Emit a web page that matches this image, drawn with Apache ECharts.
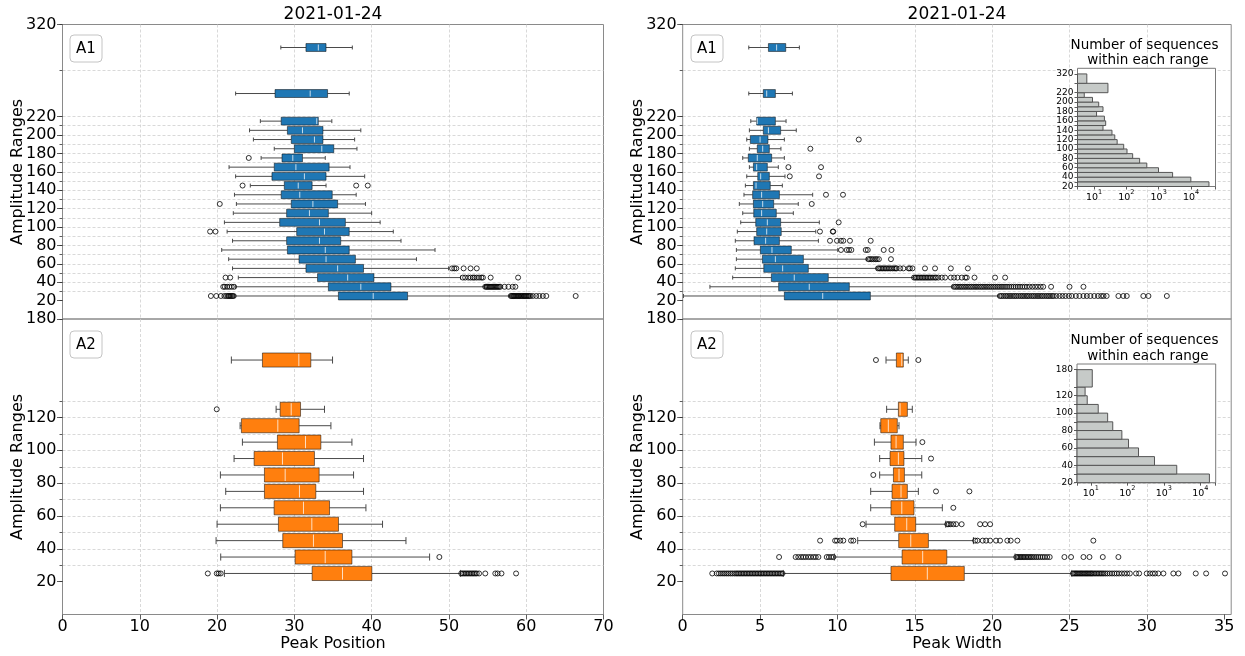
<!DOCTYPE html>
<html>
<head>
<meta charset="utf-8">
<script src="https://cdn.jsdelivr.net/npm/echarts@6/dist/echarts.min.js"></script>
<style>
  html, body { margin: 0; padding: 0; background: #fff; }
  #chart { width: 1245px; height: 656px; }
</style>
</head>
<body>
<div id="chart"></div>
<script>
const FONT = 'DejaVu Sans';
const dateLabel = '2021-01-24';

// Amplitude bins of the two groups
const a1Ranges = [[20,30],[30,40],[40,50],[50,60],[60,70],[70,80],[80,90],[90,100],[100,110],[110,120],
  [120,130],[130,140],[140,150],[150,160],[160,170],[170,180],[180,190],[190,200],[200,210],[210,220],
  [220,270],[270,320]];
const a2Ranges = [[20,30],[30,40],[40,50],[50,60],[60,70],[70,80],[80,90],[90,100],[100,110],[110,120],
  [120,130],[130,180]];

// Tick positions and labelled ticks
const a1TickValues = [20,30,40,50,60,70,80,90,100,110,120,130,140,150,160,170,180,190,200,210,220,270,320];
const a1LabelValues = [20,40,60,80,100,120,140,160,180,200,220,320];
const a2TickValues = [20,30,40,50,60,70,80,90,100,110,120,130,180];
const a2LabelValues = [20,40,60,80,100,120,180];
const positionTicks = [0,10,20,30,40,50,60,70];
const widthTicks = [0,5,10,15,20,25,30,35];

// Box statistics per bin: [lower whisker, Q1, median, Q3, upper whisker]
const a1PositionStats = [
  [22.3,35.7,40.2,44.65,57.9],[22.4,34.4,38.6,42.5,54.6],[22.75,33.0,36.9,40.3,51.5],[22.0,31.5,35.6,38.95,49.95],
  [21.5,30.6,34.1,37.9,45.8],[20.6,29.1,34.0,37.1,48.2],[22.0,29.0,33.25,36.0,43.8],[21.3,30.3,33.9,37.1,42.8],
  [20.95,28.1,33.25,36.6,41.1],[22.1,29.0,31.95,34.4,40.0],[22.5,29.6,32.4,35.6,39.2],[22.25,28.3,30.7,34.9,38.0],
  [24.3,28.7,30.5,32.3,34.1],[22.4,27.1,31.3,34.1,39.1],[21.55,27.4,30.2,34.5,37.2],[25.7,28.4,29.8,31.05,34.0],
  [27.4,30.0,33.55,35.1,38.1],[24.7,29.6,32.6,33.7,37.8],[24.2,29.1,31.05,33.7,38.6],[25.6,28.3,32.9,33.1,34.85],
  [22.4,27.5,32.05,34.3,37.1],[28.25,31.5,33.1,34.1,37.5]
];
const a1WidthStats = [
  [0.05,6.57,9.05,12.13,20.4],[1.76,6.2,8.18,10.77,17.45],[3.23,5.73,7.21,9.41,14.9],[3.4,5.24,6.46,8.12,12.54],
  [3.47,5.15,5.99,7.8,11.87],[3.47,5.02,5.77,7.02,10.02],[3.4,4.61,5.36,6.25,8.77],[3.53,4.78,5.43,6.37,8.6],
  [3.75,4.72,5.47,6.33,8.83],[3.88,4.59,5.1,6.05,7.15],[3.66,4.57,5.17,5.88,7.47],[3.96,4.52,5.1,6.25,8.4],
  [4.05,4.57,4.74,5.66,6.44],[4.14,4.85,5.04,5.6,6.61],[4.31,4.57,4.78,5.47,6.18],[3.88,4.24,4.82,5.75,6.57],
  [4.31,4.82,5.17,5.6,6.35],[4.14,4.37,5.0,5.51,6.57],[4.31,5.21,5.54,6.33,7.34],[4.4,4.78,4.82,5.99,6.68],
  [4.27,5.21,5.43,5.99,7.09],[4.27,5.54,6.07,6.66,7.54]
];
const a2PositionStats = [
  [20.95,32.3,36.23,40.03,51.48],[20.47,30.1,33.99,37.45,47.5],[19.87,28.5,32.47,36.23,44.44],[20.0,27.94,32.26,35.71,41.41],
  [20.43,27.38,31.18,34.55,39.26],[21.12,26.13,30.66,32.78,38.95],[20.43,26.13,28.81,33.21,37.66],[22.2,24.79,28.46,32.6,38.95],
  [23.28,27.81,31.44,33.43,37.45],[22.98,23.15,27.86,30.62,34.73],[27.64,28.16,29.59,30.8,33.9],[21.85,25.87,30.58,32.13,34.94]
];
const a2WidthStats = [
  [6.5,13.46,15.81,18.2,25.15],[9.8,14.18,15.51,17.07,21.48],[11.31,13.96,14.74,15.88,18.79],[11.85,13.7,14.48,15.06,17.0],
  [12.15,13.46,14.16,14.95,16.78],[12.15,13.53,14.11,14.52,15.23],[12.73,13.62,13.98,14.33,15.45],[12.73,13.4,13.94,14.3,15.45],
  [12.39,13.46,13.79,14.26,15.08],[12.75,12.8,13.29,13.87,13.98],[13.18,13.94,14.05,14.52,14.84],[13.14,13.81,14.16,14.26,14.58]
];

// Outliers per bin
const a1PositionOutliers = [
  [19.2,19.9,20.5,20.95,21.2,21.4,21.55,21.7,21.85,22.0,22.15,58.0,58.15,58.3,58.4,58.55,58.7,58.85,59.0,59.1,59.25,
   59.4,59.55,59.7,59.8,59.95,60.1,60.25,60.4,60.55,60.85,61.3,61.7,62.15,62.6,66.4],
  [20.8,21.0,21.3,21.6,21.9,22.2,54.7,54.85,55.0,55.15,55.3,55.45,55.6,55.75,55.9,56.05,56.2,56.35,56.5,56.65,57.2,57.7,58.25,58.6],
  [21.1,21.7,51.8,52.1,52.5,52.8,53.1,53.3,53.6,53.9,54.2,54.4,55.4,58.95],
  [50.4,50.7,50.95,51.9,52.8,53.6],
  [],[],[],[19.1,19.8],[],[],[20.35],[],[23.3,38.0,39.5],[],[],[24.1],[],[],[],[],[],[]
];
const a1WidthOutliers = [
  [20.5,20.61,20.73,20.86,20.97,21.1,21.21,21.34,21.46,21.57,21.7,21.83,21.94,22.06,22.19,22.3,22.41,22.55,22.66,22.78,
   22.91,23.02,23.15,23.26,23.38,23.51,23.62,23.74,23.87,23.98,24.15,24.36,24.55,24.74,24.96,25.15,25.41,25.64,25.9,26.12,
   26.35,26.6,26.84,27.05,27.2,27.4,28.16,28.48,28.7,29.77,30.1,31.29],
  [17.52,17.63,17.74,17.86,17.97,18.08,18.2,18.31,18.43,18.55,18.66,18.78,18.9,19.01,19.13,19.25,19.36,19.48,19.6,19.72,
   19.84,19.96,20.08,20.2,20.33,20.45,20.58,20.7,20.83,20.96,21.1,21.24,21.38,21.52,21.66,21.8,21.95,22.1,22.25,22.42,
   22.6,22.78,22.96,23.14,23.3,23.81,25.0,25.9],
  [14.95,15.05,15.15,15.25,15.35,15.45,15.55,15.65,15.75,15.85,15.95,16.05,16.17,16.3,16.38,16.52,16.75,16.96,17.33,17.54,
   17.76,18.04,18.26,18.36,18.86,20.19,20.84],
  [12.62,12.72,12.82,12.92,13.02,13.12,13.22,13.33,13.43,13.55,13.66,13.76,13.83,14.05,14.26,14.6,14.69,14.85,15.66,16.31,17.33,18.43],
  [12.0,12.1,12.2,12.32,12.45,12.55,12.68,13.46],
  [10.23,10.6,10.75,10.9,11.83,11.96,12.99,13.49],
  [9.52,9.97,10.23,10.38,10.81,12.15],
  [8.87,9.7,9.73],
  [10.08],[],[8.34],[9.26,10.36],[],[6.92,8.81],[6.83,8.94],[],[8.25],[11.38],[],[],[],[]
];
const a2PositionOutliers = [
  [18.8,19.96,20.2,20.47,51.6,51.8,52.0,52.2,52.4,52.6,52.8,53.0,53.2,53.4,53.6,53.9,54.7,56.0,56.3,56.8,58.69],
  [48.76],[],[],[],[],[],[],[],[],[19.96],[]
];
const a2WidthOutliers = [
  [1.91,2.2,2.34,2.47,2.6,2.72,2.85,2.97,3.1,3.22,3.35,3.46,3.56,3.66,3.76,3.86,3.96,4.06,4.16,4.26,4.36,4.46,4.56,4.66,
   4.76,4.86,4.96,5.06,5.16,5.26,5.36,5.46,5.56,5.66,5.76,5.86,5.96,6.06,6.16,6.26,6.36,6.45,
   25.22,25.3,25.38,25.46,25.54,25.62,25.7,25.78,25.86,25.94,26.02,26.1,26.18,26.26,26.34,26.42,26.5,26.6,26.7,26.8,
   26.9,27.0,27.1,27.2,27.32,27.45,27.6,27.75,27.9,28.05,28.2,28.38,28.55,28.72,28.9,29.3,29.5,29.99,30.2,30.38,30.53,
   30.74,31.07,31.71,32.04,33.16,33.83,35.05],
  [6.23,7.3,7.47,7.65,7.8,7.95,8.12,8.28,8.45,8.6,8.77,9.31,9.45,9.6,9.74,
   21.56,21.65,21.74,21.83,21.92,22.01,22.1,22.2,22.3,22.4,22.5,22.6,22.72,22.85,22.98,23.12,23.26,23.4,23.56,23.72,
   24.67,25.1,25.9,26.29,27.15,28.16],
  [8.88,9.85,9.97,10.18,10.38,10.88,11.03,18.9,19.05,19.39,19.61,19.87,20.25,20.51,20.98,21.2,21.63,26.54],
  [11.63,17.1,17.2,17.32,17.49,17.67,18.03,19.22,19.54,19.87],
  [17.49],[16.37,18.53],[12.32],[16.05],[15.49],[],[],[12.49,15.23]
];

// Number of sequences in each amplitude bin
const a1Counts = [36000,9900,2700,990,430,258,157,105,83,52,44,36,19,23,21,12,19,14,9,5,27,6];
const a2Counts = [17700,2260,555,203,108,71,40,29,16,8,7,11];

const BOX_HALF = 4.3;       // half box thickness, amplitude units
const BLUE = '#1f77b4';
const ORANGE = '#ff7f0e';

const mid = r => (r[0] + r[1]) / 2;
const boxData = (ranges, stats) => stats.map((s, i) => [mid(ranges[i])].concat(s));
function outlierData(ranges, outliers) {
  const pts = [];
  outliers.forEach((list, i) => list.forEach(v => pts.push([v, mid(ranges[i])])));
  return pts;
}

// Inset rows: the wide top bins get a double-height row
function insetRows(ranges) {
  let k = 0;
  return ranges.map(r => {
    const span = r[1] - r[0] > 10 ? 2 : 1;
    const row = [k, k + span, r[0], r[1]];
    k += span;
    return row;
  });
}
function insetEdges(ranges) {
  const edges = {};
  insetRows(ranges).forEach(r => { edges[r[0]] = r[2]; edges[r[1]] = r[3]; });
  return edges;
}
const a1Edges = insetEdges(a1Ranges);
const a2Edges = insetEdges(a2Ranges);
const edgeIdx = edges => Object.keys(edges).map(Number);
const labelIdx = (edges, labels) => edgeIdx(edges).filter(k => labels.indexOf(edges[k]) >= 0);
const countData = (ranges, counts) => insetRows(ranges).map((r, i) => [r[0], r[1], counts[i]]);

function renderBox(fill) {
  return function (params, api) {
    const yc = api.value(0);
    const lo = api.value(1), q1 = api.value(2), md = api.value(3), q3 = api.value(4), hi = api.value(5);
    const cy = api.coord([lo, yc])[1];
    const h = api.size([0, 2 * BOX_HALF])[1];
    const x = v => api.coord([v, yc])[0];
    const wStyle = { stroke: '#4a4a4a', lineWidth: 1 };
    return {
      type: 'group',
      children: [
        { type: 'line', shape: { x1: x(lo), y1: cy, x2: x(q1), y2: cy }, style: wStyle },
        { type: 'line', shape: { x1: x(q3), y1: cy, x2: x(hi), y2: cy }, style: wStyle },
        { type: 'line', shape: { x1: x(lo), y1: cy - h / 4, x2: x(lo), y2: cy + h / 4 }, style: wStyle },
        { type: 'line', shape: { x1: x(hi), y1: cy - h / 4, x2: x(hi), y2: cy + h / 4 }, style: wStyle },
        { type: 'rect', shape: { x: x(q1), y: cy - h / 2, width: x(q3) - x(q1), height: h },
          style: { fill: fill, stroke: 'rgba(0,0,0,0.5)', lineWidth: 1 } },
        { type: 'line', shape: { x1: x(md), y1: cy - h / 2 + 1, x2: x(md), y2: cy + h / 2 - 1 },
          style: { stroke: 'rgba(255,255,255,0.75)', lineWidth: 1 } }
      ]
    };
  };
}

function renderCountBar(params, api) {
  const r0 = api.value(0), r1 = api.value(1), n = api.value(2);
  const left = params.coordSys.x;
  const end = api.coord([n, r0]);
  const top = api.coord([n, r1])[1];
  return {
    type: 'rect',
    shape: { x: left, y: top, width: end[0] - left, height: end[1] - top },
    style: { fill: '#c6cac8', stroke: '#555', lineWidth: 1 }
  };
}

const gridLine = { show: true, showMinLine: false, showMaxLine: false,
  lineStyle: { color: '#cfcfcf', type: [3, 2], width: 0.8 } };
const tickLine = { color: '#333', width: 0.8 };
const labelFont = { fontSize: 16, fontFamily: FONT, color: '#000' };

function mainX(gridIndex, max, ticks, showLabels) {
  return {
    type: 'value', gridIndex, min: 0, max,
    axisLine: { show: false },
    axisTick: { show: showLabels, customValues: ticks, length: 5, lineStyle: tickLine },
    axisLabel: Object.assign({ show: showLabels, customValues: ticks, margin: 4 }, labelFont),
    splitLine: gridLine
  };
}
function mainY(gridIndex, max, ticks, labels) {
  return {
    type: 'value', gridIndex, min: 0, max,
    axisLine: { show: false },
    axisTick: { show: true, customValues: ticks, length: 3, lineStyle: tickLine },
    axisLabel: Object.assign({ customValues: labels, margin: 6 }, labelFont),
    splitLine: gridLine
  };
}
function majorTickY(gridIndex, max, labels) {
  return {
    type: 'value', gridIndex, min: 0, max, position: 'left',
    axisLine: { show: false },
    axisTick: { show: true, customValues: labels, length: 5.5, lineStyle: tickLine },
    axisLabel: { show: false },
    splitLine: { show: false }
  };
}
function powerLabel(v) {
  const l = Math.log10(v);
  if (Math.abs(l - Math.round(l)) > 1e-6) return '';
  return '{b|10}{e|' + Math.round(l) + '}';
}
function insetX(gridIndex, min, max) {
  return {
    type: 'log', gridIndex, min, max, z: 6,
    axisLine: { show: false },
    axisTick: { length: 3, lineStyle: tickLine },
    axisLabel: {
      formatter: powerLabel, margin: 2,
      rich: {
        b: { fontSize: 9.5, fontFamily: FONT, color: '#000', lineHeight: 14, verticalAlign: 'bottom' },
        e: { fontSize: 6.5, fontFamily: FONT, color: '#000', verticalAlign: 'top' }
      }
    },
    splitLine: { show: false }
  };
}
function insetY(gridIndex, max, edges, labels) {
  return {
    type: 'value', gridIndex, min: 0, max, z: 6,
    axisLine: { show: false },
    axisTick: { customValues: edgeIdx(edges), length: 3, lineStyle: tickLine },
    axisLabel: {
      customValues: labelIdx(edges, labels), margin: 4,
      fontSize: 9, fontFamily: FONT, color: '#000',
      formatter: v => String(edges[Math.round(v)])
    },
    splitLine: { show: false }
  };
}

function panelTag(x, y, text) {
  return [
    { type: 'rect', shape: { x: x, y: y, width: 32, height: 27, r: 4 }, z: 20,
      style: { fill: '#fff', stroke: '#c4c4c4', lineWidth: 1 } },
    { type: 'text', x: x + 16, y: y + 14, z: 21,
      style: { text: text, fontSize: 15, fontFamily: FONT, fill: '#000', align: 'center', verticalAlign: 'middle' } }
  ];
}
function plainText(x, y, text, size, rotate) {
  return { type: 'text', x, y, rotation: rotate ? Math.PI / 2 : 0, z: 20,
    style: { text, fontSize: size, fontFamily: FONT, fill: '#000', align: 'center', verticalAlign: 'middle' } };
}

const chart = echarts.init(document.getElementById('chart'), null, { renderer: 'canvas' });

chart.setOption({
  animation: false,
  backgroundColor: '#fff',
  grid: [
    { left: 62.5, top: 24.5, width: 541, height: 294.5, show: true, borderColor: '#8a8a8a', borderWidth: 1 },
    { left: 62.5, top: 319, width: 541, height: 295.5, show: true, borderColor: '#8a8a8a', borderWidth: 1 },
    { left: 682.7, top: 24.5, width: 548.5, height: 294.5, show: true, borderColor: '#8a8a8a', borderWidth: 1 },
    { left: 682.7, top: 319, width: 548.5, height: 295.5, show: true, borderColor: '#8a8a8a', borderWidth: 1 },
    { left: 1077.5, top: 68.3, width: 138, height: 118.2, show: true, z: 5,
      backgroundColor: '#fff', borderColor: '#7a7a7a', borderWidth: 1 },
    { left: 1077, top: 364, width: 138.7, height: 118.7, show: true, z: 5,
      backgroundColor: '#fff', borderColor: '#7a7a7a', borderWidth: 1 }
  ],
  xAxis: [
    mainX(0, 70, positionTicks, false),
    mainX(1, 70, positionTicks, true),
    mainX(2, 35.45, widthTicks, false),
    mainX(3, 35.45, widthTicks, true),
    insetX(4, 3.09, 57300),
    insetX(5, 4.2, 26300)
  ],
  yAxis: [
    mainY(0, 320, a1TickValues, a1LabelValues),
    mainY(1, 180, a2TickValues, a2LabelValues),
    mainY(2, 320, a1TickValues, a1LabelValues),
    mainY(3, 180, a2TickValues, a2LabelValues),
    insetY(4, 25.2, a1Edges, a1LabelValues),
    insetY(5, 13.65, a2Edges, a2LabelValues),
    majorTickY(0, 320, a1LabelValues),
    majorTickY(1, 180, a2LabelValues),
    majorTickY(2, 320, a1LabelValues),
    majorTickY(3, 180, a2LabelValues)
  ],
  series: [
    { type: 'custom', name: 'A1 position', xAxisIndex: 0, yAxisIndex: 0, z: 2,
      renderItem: renderBox(BLUE), encode: { x: [1, 2, 3, 4, 5], y: 0 }, data: boxData(a1Ranges, a1PositionStats) },
    { type: 'custom', name: 'A2 position', xAxisIndex: 1, yAxisIndex: 1, z: 2,
      renderItem: renderBox(ORANGE), encode: { x: [1, 2, 3, 4, 5], y: 0 }, data: boxData(a2Ranges, a2PositionStats) },
    { type: 'custom', name: 'A1 width', xAxisIndex: 2, yAxisIndex: 2, z: 2,
      renderItem: renderBox(BLUE), encode: { x: [1, 2, 3, 4, 5], y: 0 }, data: boxData(a1Ranges, a1WidthStats) },
    { type: 'custom', name: 'A2 width', xAxisIndex: 3, yAxisIndex: 3, z: 2,
      renderItem: renderBox(ORANGE), encode: { x: [1, 2, 3, 4, 5], y: 0 }, data: boxData(a2Ranges, a2WidthStats) },
    ...[
      [0, a1Ranges, a1PositionOutliers], [1, a2Ranges, a2PositionOutliers],
      [2, a1Ranges, a1WidthOutliers], [3, a2Ranges, a2WidthOutliers]
    ].map(([idx, ranges, outs]) => ({
      type: 'scatter', xAxisIndex: idx, yAxisIndex: idx, z: 3,
      symbol: 'circle', symbolSize: 5,
      itemStyle: { color: 'rgba(0,0,0,0)', borderColor: '#000', borderWidth: 1 },
      emphasis: { disabled: true },
      data: outlierData(ranges, outs)
    })),
    { type: 'custom', name: 'A1 counts', xAxisIndex: 4, yAxisIndex: 4, z: 7,
      renderItem: renderCountBar, encode: { x: 2, y: [0, 1] }, data: countData(a1Ranges, a1Counts) },
    { type: 'custom', name: 'A2 counts', xAxisIndex: 5, yAxisIndex: 5, z: 7,
      renderItem: renderCountBar, encode: { x: 2, y: [0, 1] }, data: countData(a2Ranges, a2Counts) }
  ],
  graphic: [
    plainText(333, 14.5, dateLabel, 17),
    plainText(957, 14.5, dateLabel, 17),
    plainText(17.5, 172, 'Amplitude Ranges', 16, true),
    plainText(17.5, 467, 'Amplitude Ranges', 16, true),
    plainText(637.5, 172, 'Amplitude Ranges', 16, true),
    plainText(637.5, 467, 'Amplitude Ranges', 16, true),
    plainText(333, 644, 'Peak Position', 16),
    plainText(957, 644, 'Peak Width', 16),
    plainText(1144.5, 45, 'Number of sequences', 13.5),
    plainText(1148, 60.5, 'within each range', 13.5),
    plainText(1144.5, 340.5, 'Number of sequences', 13.5),
    plainText(1148, 356, 'within each range', 13.5),
    ...panelTag(70, 35, 'A1'),
    ...panelTag(691, 35, 'A1'),
    ...panelTag(70, 331, 'A2'),
    ...panelTag(691, 331, 'A2')
  ]
});
</script>
</body>
</html>
